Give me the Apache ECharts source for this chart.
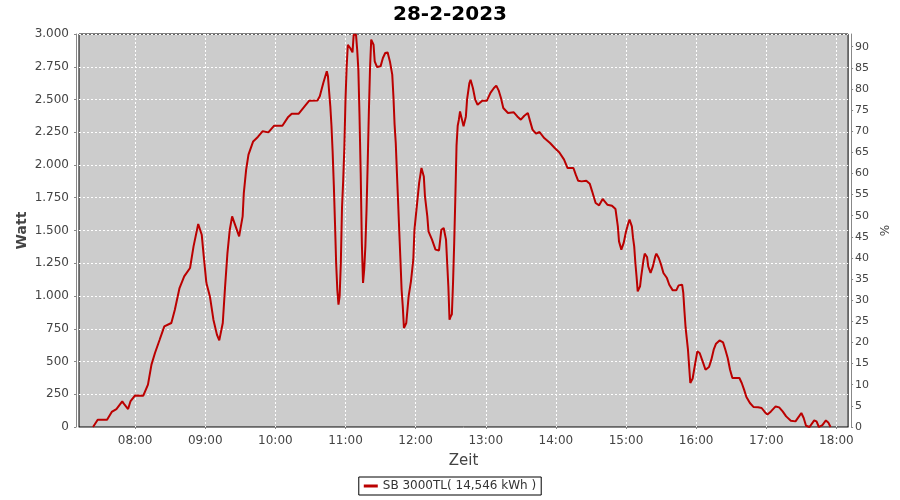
<!DOCTYPE html>
<html>
<head>
<meta charset="utf-8">
<script src="https://cdn.jsdelivr.net/npm/echarts@6/dist/echarts.min.js"></script>
<style>
html,body{margin:0;padding:0;background:#fff;}
#chart{width:900px;height:500px;}
</style>
</head>
<body>
<div id="chart"></div>
<script>
// ---- Data ----
const chartTitle = "28-2-2023";
const seriesName = "SB 3000TL( 14,546 kWh )";
const times = [
"07:24","07:28","07:36","07:40","07:44","07:49","07:51","07:54","07:56","08:00",
"08:07","08:11","08:14","08:17","08:21","08:25","08:31","08:34","08:38","08:42",
"08:47","08:50","08:54","08:57","08:59","09:01","09:04","09:07","09:10","09:12",
"09:15","09:17","09:19","09:21","09:23","09:26","09:29","09:32","09:33","09:35",
"09:37","09:41","09:45","09:49","09:54","09:59","10:06","10:11","10:14","10:20",
"10:25","10:29","10:36","10:38","10:41","10:44","10:45","10:46","10:47","10:48",
"10:49","10:50","10:51","10:52","10:53","10:54","10:55","10:56","10:57","10:58",
"10:59","11:00","11:01","11:02","11:04","11:06","11:07","11:09","11:10","11:11",
"11:12","11:13","11:14","11:15","11:16","11:17","11:18","11:19","11:20","11:21",
"11:22","11:24","11:25","11:27","11:30","11:32","11:34","11:36","11:38","11:40",
"11:41","11:42","11:43","11:44","11:45","11:46","11:47","11:48","11:49","11:50",
"11:52","11:54","11:56","11:58","11:59","12:01","12:03","12:05","12:07","12:08",
"12:10","12:11","12:14","12:17","12:20","12:22","12:24","12:26","12:27","12:28",
"12:29","12:30","12:31","12:32","12:33","12:34","12:35","12:36","12:37","12:38",
"12:40","12:41","12:43","12:44","12:46","12:47","12:49","12:51","12:53","12:57",
"13:01","13:04","13:07","13:09","13:11","13:13","13:15","13:19","13:24","13:27",
"13:30","13:33","13:36","13:38","13:40","13:43","13:46","13:50","13:55","13:59",
"14:03","14:07","14:10","14:15","14:17","14:19","14:22","14:26","14:29","14:31",
"14:34","14:37","14:40","14:44","14:48","14:51","14:53","14:54","14:56","14:58",
"15:00","15:02","15:03","15:05","15:06","15:07","15:08","15:09","15:10","15:12",
"15:13","15:15","15:16","15:18","15:19","15:21","15:23","15:25","15:26","15:28",
"15:30","15:32","15:35","15:37","15:40","15:43","15:45","15:48","15:49","15:50",
"15:51","15:53","15:54","15:55","15:57","15:59","16:01","16:03","16:06","16:08",
"16:11","16:13","16:15","16:17","16:20","16:23","16:25","16:27","16:29","16:31",
"16:34","16:37","16:39","16:41","16:43","16:46","16:49","16:53","16:56","16:59",
"17:01","17:04","17:08","17:11","17:14","17:17","17:21","17:25","17:28","17:30",
"17:32","17:34","17:37","17:41","17:43","17:45","17:48","17:51","17:53","17:55"
];
const watts = [
0,56,56,115,137,195,170,137,195,241,
239,323,476,565,666,768,794,895,1061,1150,
1214,1379,1550,1468,1277,1099,997,819,705,661,
794,1073,1328,1506,1608,1532,1455,1608,1786,1964,
2079,2180,2214,2257,2249,2300,2300,2367,2392,2392,
2447,2491,2493,2524,2626,2715,2677,2560,2450,2300,
2100,1850,1560,1250,1048,934,1000,1250,1672,1875,
2130,2499,2753,2918,2893,2860,2995,2995,2880,2728,
2371,1939,1400,1099,1201,1379,1659,2015,2409,2740,
2957,2918,2791,2748,2753,2817,2855,2860,2791,2690,
2524,2308,2168,1939,1722,1493,1277,1048,921,756,
794,997,1112,1277,1506,1684,1863,1977,1913,1760,
1608,1493,1430,1354,1348,1506,1519,1430,1252,1073,
819,844,860,1099,1405,1760,2150,2300,2346,2409,
2333,2295,2371,2499,2626,2651,2588,2499,2460,2491,
2491,2550,2588,2606,2570,2512,2435,2397,2402,2371,
2346,2376,2397,2333,2270,2239,2252,2206,2168,2130,
2096,2041,1977,1977,1926,1880,1875,1880,1857,1799,
1710,1692,1741,1697,1689,1664,1532,1417,1354,1405,
1493,1557,1583,1532,1443,1379,1252,1150,1035,1073,
1150,1277,1323,1298,1226,1176,1226,1302,1323,1290,
1239,1176,1137,1086,1043,1043,1081,1086,1023,882,
756,590,463,336,370,476,577,565,489,437,
458,514,590,636,661,646,590,527,437,374,
374,374,336,285,229,183,153,150,145,111,
96,119,157,150,119,81,48,43,81,107,
69,10,0,50,43,0,15,50,35,0
];
const hourTicks = ["08:00","09:00","10:00","11:00","12:00","13:00","14:00","15:00","16:00","17:00","18:00"];
const percentTicks = [0,5,10,15,20,25,30,35,40,45,50,55,60,65,70,75,80,85,90];

// ---- helpers ----
function toMin(s){ const p = s.split(':'); return (+p[0])*60 + (+p[1]); }
function fmtMin(v){ const h = Math.floor(v/60), m = Math.round(v%60); return String(h).padStart(2,'0')+':'+String(m).padStart(2,'0'); }
function fmtW(v){ if (v >= 1000) { return Math.floor(v/1000) + '.' + String(v%1000).padStart(3,'0'); } return String(v); }

const seriesData = times.map((t,i)=>[toMin(t), watts[i]]);
const hourVals = hourTicks.map(toMin);

const FONT = "DejaVu Sans";
const chart = echarts.init(document.getElementById('chart'), null, {renderer:'canvas'});
chart.setOption({
  animation:false,
  backgroundColor:'#ffffff',
  textStyle:{fontFamily:FONT},
  title:{
    text:chartTitle, left:'center', top:0,
    textStyle:{fontFamily:FONT, fontSize:20, fontWeight:'bold', color:'#000'}
  },
  legend:{
    data:[seriesName], left:'center', top:477,
    borderColor:'#000', borderWidth:1, padding:[3,5,3,5],
    itemWidth:14, itemHeight:3, icon:'rect', itemGap:4,
    textStyle:{fontFamily:FONT, fontSize:12, color:'#333'}
  },
  grid:{
    left:79, right:51, top:34, bottom:73,
    show:true, backgroundColor:'#CCCCCC', borderColor:'#000', borderWidth:1
  },
  xAxis:{
    type:'value', min:432, max:1090, offset:4,
    name:'Zeit', nameLocation:'middle', nameGap:23,
    nameTextStyle:{fontFamily:FONT, fontSize:15, color:'#444'},
    axisLine:{show:true, lineStyle:{color:'#888'}},
    axisTick:{show:true, length:2, customValues:hourVals, lineStyle:{color:'#888'}},
    axisLabel:{customValues:hourVals, formatter:fmtMin, color:'#444', fontSize:12, fontFamily:FONT, margin:4},
    splitLine:{show:true, lineStyle:{color:'#ffffff', type:[2,2], width:1}}
  },
  yAxis:[{
    type:'value', min:0, max:3000, interval:250, offset:3, position:'left',
    name:'Watt', nameLocation:'middle', nameGap:47, nameRotate:90, nameMoveOverlap:false,
    nameTextStyle:{fontFamily:FONT, fontSize:14, fontWeight:'bold', color:'#444'},
    axisLine:{show:true, lineStyle:{color:'#888'}},
    axisTick:{show:true, length:2, lineStyle:{color:'#888'}},
    axisLabel:{formatter:fmtW, color:'#444', fontSize:12, fontFamily:FONT, margin:7},
    splitLine:{show:true, lineStyle:{color:'#ffffff', type:[2,2], width:1}}
  },{
    type:'value', min:0, max:93, offset:3, position:'right',
    name:'%', nameLocation:'middle', nameGap:24, nameRotate:90,
    nameTextStyle:{fontFamily:FONT, fontSize:12, color:'#444'},
    axisLine:{show:true, lineStyle:{color:'#888'}},
    axisTick:{show:true, length:2, customValues:percentTicks, lineStyle:{color:'#888'}},
    axisLabel:{customValues:percentTicks, color:'#444', fontSize:11, fontFamily:FONT, margin:4},
    splitLine:{show:false}
  }],
  series:[{
    name:seriesName, type:'line', yAxisIndex:0,
    data:seriesData, showSymbol:false, symbol:'none',
    lineStyle:{color:'#BB0000', width:2},
    itemStyle:{color:'#BB0000'},
    clip:true
  }]
});
</script>
</body>
</html>
